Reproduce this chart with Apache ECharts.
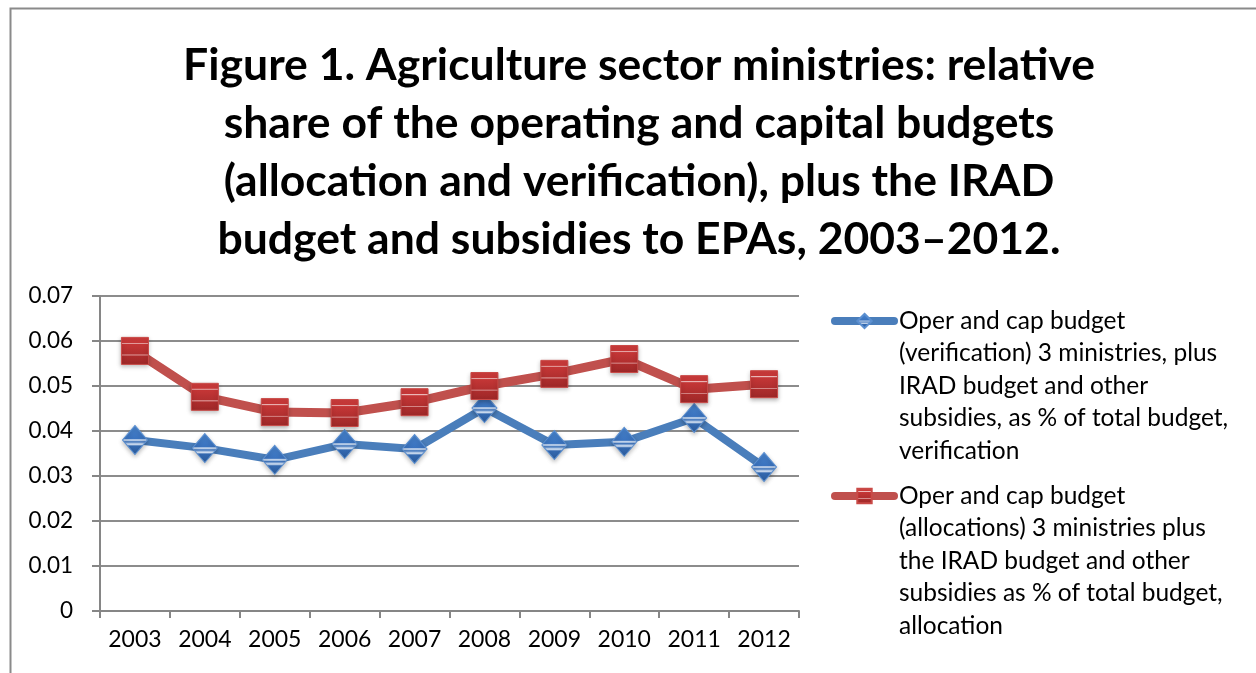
<!DOCTYPE html>
<html>
<head>
<meta charset="utf-8">
<script src="https://cdn.jsdelivr.net/npm/echarts@6/dist/echarts.min.js"></script>
<style>
  html, body { margin: 0; padding: 0; background: #fff; }
  #chart { width: 1256px; height: 673px; }
</style>
</head>
<body>
<div id="chart"></div>
<script>
// Budget share of agriculture sector ministries, 2003–2012
const years = ['2003', '2004', '2005', '2006', '2007', '2008', '2009', '2010', '2011', '2012'];
const verification = [0.038, 0.0362, 0.0336, 0.0371, 0.036, 0.0451, 0.0369, 0.0376, 0.0429, 0.032];
const allocation = [0.0578, 0.0476, 0.0442, 0.044, 0.0464, 0.050, 0.0527, 0.056, 0.0493, 0.0504];
const yTicks = [0, 0.01, 0.02, 0.03, 0.04, 0.05, 0.06, 0.07];
const nameVerification = 'Oper and cap budget\n(verification) 3 ministries, plus\nIRAD budget and other\nsubsidies, as % of total budget,\nverification';
const nameAllocation = 'Oper and cap budget\n(allocations) 3 ministries plus\nthe IRAD budget and other\nsubsidies as % of total budget,\nallocation';
const titleText = 'Figure 1. Agriculture sector ministries: relative\nshare of the operating and capital budgets\n(allocation and verification), plus the IRAD\nbudget and subsidies to EPAs, 2003\u20132012.';

const FONT = 'Lato, "Open Sans", sans-serif';
const LINE_H = 32.5;

// legend text sits level with the icon on its first line
const padLegend = name => '\n\n\n\n' + name;

const redFill = new echarts.graphic.LinearGradient(0, 0, 0, 1, [
  { offset: 0, color: '#cf3d3d' },
  { offset: 0.2, color: '#c93838' },
  { offset: 0.22, color: '#f2c9c9' },
  { offset: 0.27, color: '#c43636' },
  { offset: 0.62, color: '#b12f2f' },
  { offset: 0.64, color: '#e9b3b3' },
  { offset: 0.68, color: '#ad2d2d' },
  { offset: 1, color: '#9e2828' }
]);
const blueFill = new echarts.graphic.LinearGradient(0, 0, 0, 1, [
  { offset: 0, color: '#4a86d0' },
  { offset: 0.45, color: '#3a73bf' },
  { offset: 0.5, color: '#dfe9f6' },
  { offset: 0.56, color: '#3a70b8' },
  { offset: 0.64, color: '#dfe9f6' },
  { offset: 0.7, color: '#3469b0' },
  { offset: 1, color: '#2d5d9e' }
]);

const legendBase = {
  left: 831,
  padding: 0,
  itemWidth: 59,
  itemHeight: 18,
  formatter: padLegend,
  lineStyle: { width: 8, cap: 'round' },
  textStyle: { fontFamily: FONT, fontSize: 24.5, lineHeight: LINE_H, color: '#000' }
};

const chart = echarts.init(document.getElementById('chart'), null, { renderer: 'canvas' });

chart.setOption({
  backgroundColor: '#ffffff',
  animation: false,
  title: {
    text: titleText,
    left: 634,
    top: 32,
    textAlign: 'center',
    textStyle: {
      fontFamily: FONT,
      fontWeight: 'bold',
      fontSize: 44.5,
      lineHeight: 58,
      color: '#000'
    }
  },
  graphic: [{
    type: 'rect',
    shape: { x: 10.5, y: 8.5, width: 1300, height: 700 },
    style: { fill: 'none', stroke: '#8a8a8a', lineWidth: 2 },
    silent: true,
    z: -1
  }],
  grid: { left: 100, right: 457, top: 296, bottom: 62, containLabel: false },
  legend: [
    Object.assign({}, legendBase, { data: [nameVerification], top: 321 - 4.5 * LINE_H }),
    Object.assign({}, legendBase, { data: [nameAllocation], top: 496 - 4.5 * LINE_H })
  ],
  xAxis: {
    type: 'category',
    data: years,
    boundaryGap: true,
    axisLine: { show: true, lineStyle: { color: '#868686', width: 2 } },
    axisTick: { show: true, alignWithLabel: false, length: 7, lineStyle: { color: '#868686', width: 2 } },
    axisLabel: { fontFamily: FONT, fontSize: 23, color: '#000', margin: 17 },
    splitLine: { show: false }
  },
  yAxis: {
    type: 'value',
    min: 0,
    max: 0.07,
    interval: 0.01,
    axisLine: { show: true, lineStyle: { color: '#868686', width: 2 } },
    axisTick: { show: true, length: 8, lineStyle: { color: '#868686', width: 2 } },
    axisLabel: {
      fontFamily: FONT, fontSize: 22.5, color: '#000', margin: 27,
      formatter: v => {
        const t = yTicks.find(x => Math.abs(x - v) < 1e-9);
        return t === 0 ? '0' : String(+(t !== undefined ? t : v).toFixed(2));
      }
    },
    splitLine: { show: true, lineStyle: { color: '#8c8c8c', width: 2 } }
  },
  series: [
    {
      name: nameVerification,
      type: 'line',
      data: verification,
      symbol: 'diamond',
      symbolSize: [25, 29],
      lineStyle: { color: '#4a7ebb', width: 8 },
      itemStyle: { color: blueFill, borderColor: '#5b8fd0', borderWidth: 1, shadowColor: 'rgba(0,0,0,0.25)', shadowBlur: 4, shadowOffsetY: 2 },
      z: 3
    },
    {
      name: nameAllocation,
      type: 'line',
      data: allocation,
      symbol: 'rect',
      symbolSize: [27, 27],
      lineStyle: { color: '#c0504d', width: 9 },
      itemStyle: { color: redFill, borderColor: '#c94a47', borderWidth: 1, shadowColor: 'rgba(0,0,0,0.25)', shadowBlur: 4, shadowOffsetY: 2 },
      z: 4
    }
  ]
});
</script>
</body>
</html>
